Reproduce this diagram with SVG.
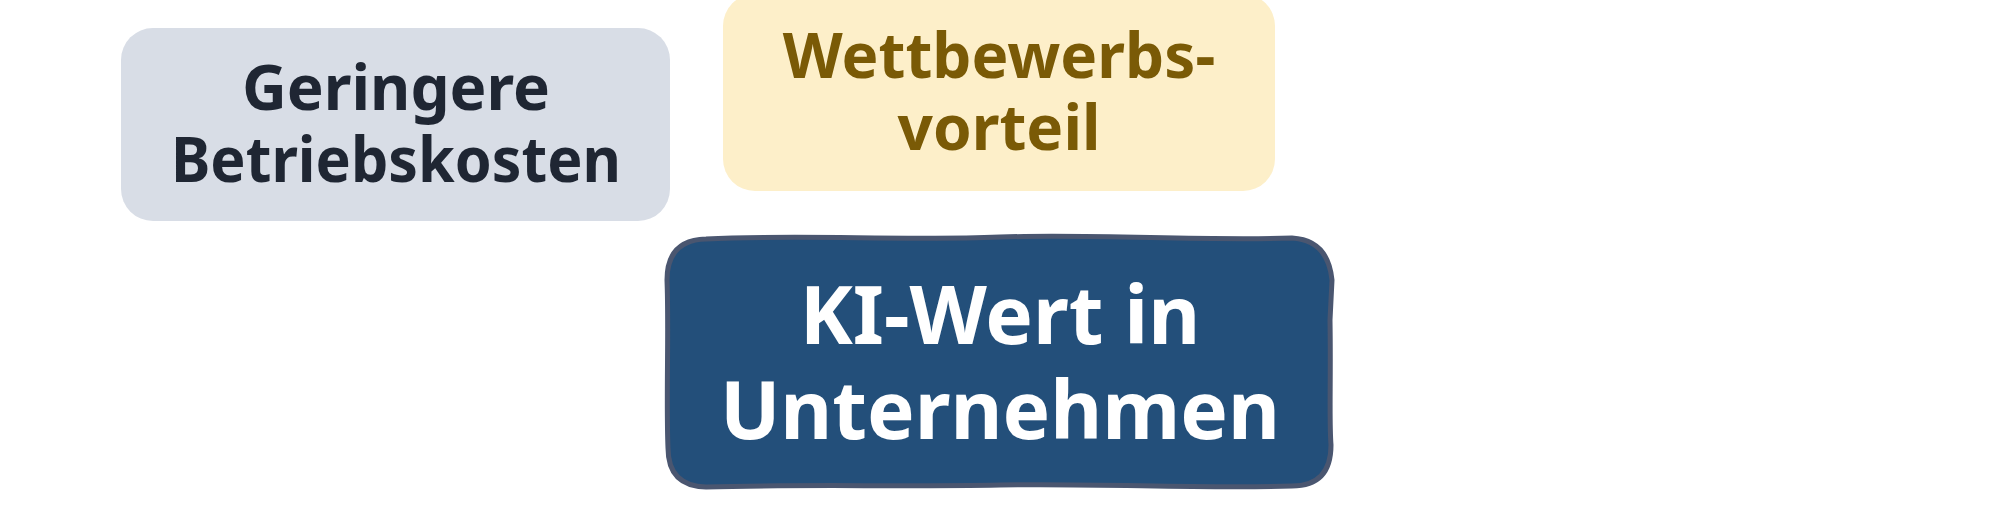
<svg xmlns="http://www.w3.org/2000/svg" width="2000" height="528" viewBox="0 0 2000 528">
  <style>
    .t { font-family: "Noto Sans", "Open Sans", sans-serif; font-weight: 700; text-anchor: middle; }
    .gray { fill: #d8dde6; }
    .yellow { fill: #fdefc9; }
    .blue { fill: #234f7a; stroke: #4a5670; stroke-width: 5; stroke-linejoin: round; }
  </style>
  <rect width="2000" height="528" fill="#ffffff"/>
  <g id="connectors"></g>
  <g id="node-betriebskosten">
    <rect class="gray" x="121" y="28" width="549" height="193" rx="32"/>
    <text class="t" x="396" y="110" font-size="62" fill="#1f2633">Geringere</text>
    <text class="t" x="396" y="182" font-size="62" fill="#1f2633" textLength="450" lengthAdjust="spacingAndGlyphs">Betriebskosten</text>
  </g>
  <g id="node-wettbewerb">
    <rect class="yellow" x="723" y="-6" width="552" height="197" rx="32"/>
    <text class="t" x="999" y="78" font-size="62" fill="#7a5a06">Wettbewerbs-</text>
    <text class="t" x="999" y="150" font-size="62" fill="#7a5a06">vorteil</text>
  </g>
  <g id="node-ki-wert">
    <path class="blue" d="M 706 239 C 800 234, 900 241, 1000 237 C 1100 234, 1200 241, 1292 238 Q 1328 240 1332 280 L 1330 320 C 1331 380, 1329 420, 1331 445 Q 1331 486 1292 486 C 1200 489, 1100 483, 1000 485 C 900 487, 800 484, 706 487 Q 668 486 668 448 C 666 400, 669 330, 667 280 Q 667 240 706 239 Z"/>
    <text class="t" x="1000" y="344" font-size="80" fill="#ffffff">KI-Wert in</text>
    <text class="t" x="1000" y="439" font-size="80" fill="#ffffff">Unternehmen</text>
  </g>
</svg>
